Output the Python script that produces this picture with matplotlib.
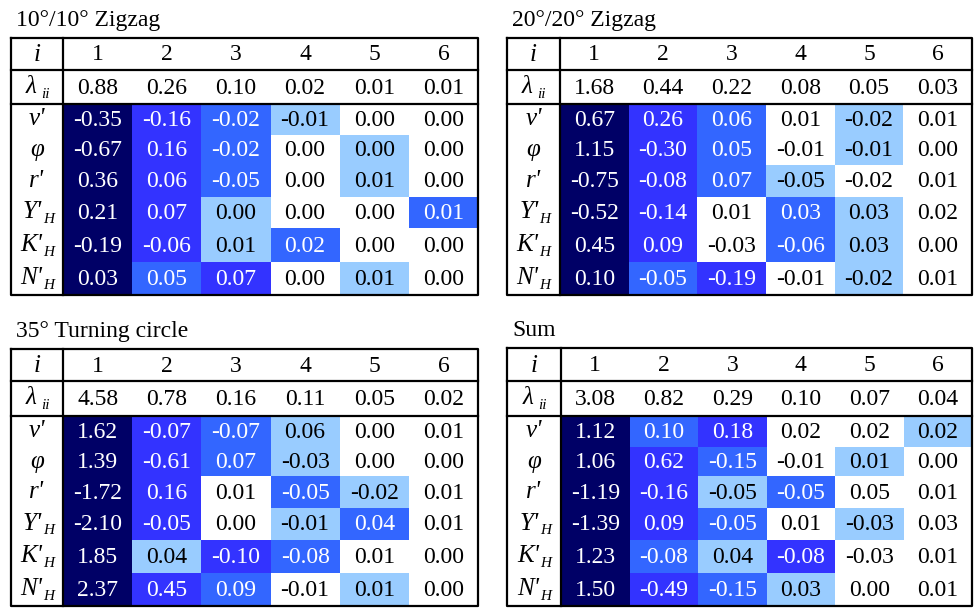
import matplotlib.pyplot as plt

plt.rcParams['font.family'] = ['Liberation Serif', 'DejaVu Serif']

# table contents
titles = ['10°/10° Zigzag', '20°/20° Zigzag', '35° Turning circle', 'Sum']
col_labels = ['1', '2', '3', '4', '5', '6']
row_labels = [("v'", ''), ('φ', ''), ("r'", ''), ("Y'", 'H'), ("K'", 'H'), ("N'", 'H')]

lam_zz10 = [0.88, 0.26, 0.10, 0.02, 0.01, 0.01]
val_zz10 = [[-0.35, -0.16, -0.02, -0.01, 0.00, 0.00],
            [-0.67, 0.16, -0.02, 0.00, 0.00, 0.00],
            [0.36, 0.06, -0.05, 0.00, 0.01, 0.00],
            [0.21, 0.07, 0.00, 0.00, 0.00, 0.01],
            [-0.19, -0.06, 0.01, 0.02, 0.00, 0.00],
            [0.03, 0.05, 0.07, 0.00, 0.01, 0.00]]
shade_zz10 = [[4, 3, 2, 1, 0, 0],
              [4, 3, 2, 0, 1, 0],
              [4, 3, 2, 0, 1, 0],
              [4, 3, 1, 0, 0, 2],
              [4, 3, 1, 2, 0, 0],
              [4, 2, 3, 0, 1, 0]]

lam_zz20 = [1.68, 0.44, 0.22, 0.08, 0.05, 0.03]
val_zz20 = [[0.67, 0.26, 0.06, 0.01, -0.02, 0.01],
            [1.15, -0.30, 0.05, -0.01, -0.01, 0.00],
            [-0.75, -0.08, 0.07, -0.05, -0.02, 0.01],
            [-0.52, -0.14, 0.01, 0.03, 0.03, 0.02],
            [0.45, 0.09, -0.03, -0.06, 0.03, 0.00],
            [0.10, -0.05, -0.19, -0.01, -0.02, 0.01]]
shade_zz20 = [[4, 3, 2, 0, 1, 0],
              [4, 3, 2, 0, 1, 0],
              [4, 3, 2, 1, 0, 0],
              [4, 3, 0, 2, 1, 0],
              [4, 3, 0, 2, 1, 0],
              [4, 2, 3, 0, 1, 0]]

lam_tc35 = [4.58, 0.78, 0.16, 0.11, 0.05, 0.02]
val_tc35 = [[1.62, -0.07, -0.07, 0.06, 0.00, 0.01],
            [1.39, -0.61, 0.07, -0.03, 0.00, 0.00],
            [-1.72, 0.16, 0.01, -0.05, -0.02, 0.01],
            [-2.10, -0.05, 0.00, -0.01, 0.04, 0.01],
            [1.85, 0.04, -0.10, -0.08, 0.01, 0.00],
            [2.37, 0.45, 0.09, -0.01, 0.01, 0.00]]
shade_tc35 = [[4, 3, 2, 1, 0, 0],
              [4, 3, 2, 1, 0, 0],
              [4, 3, 0, 2, 1, 0],
              [4, 3, 0, 1, 2, 0],
              [4, 1, 3, 2, 0, 0],
              [4, 3, 2, 0, 1, 0]]

lam_sum = [3.08, 0.82, 0.29, 0.10, 0.07, 0.04]
val_sum = [[1.12, 0.10, 0.18, 0.02, 0.02, 0.02],
           [1.06, 0.62, -0.15, -0.01, 0.01, 0.00],
           [-1.19, -0.16, -0.05, -0.05, 0.05, 0.01],
           [-1.39, 0.09, -0.05, 0.01, -0.03, 0.03],
           [1.23, -0.08, 0.04, -0.08, -0.03, 0.01],
           [1.50, -0.49, -0.15, 0.03, 0.00, 0.01]]
shade_sum = [[4, 2, 3, 0, 0, 1],
             [4, 3, 2, 0, 1, 0],
             [4, 3, 1, 2, 0, 0],
             [4, 3, 2, 0, 1, 0],
             [4, 2, 1, 3, 0, 0],
             [4, 3, 2, 1, 0, 0]]

lams = [lam_zz10, lam_zz20, lam_tc35, lam_sum]
vals = [val_zz10, val_zz20, val_tc35, val_sum]
shades = [shade_zz10, shade_zz20, shade_tc35, shade_sum]

colors = ['white', '#99ccff', '#3366ff', '#3333ff', '#000066']

fig = plt.figure(figsize=(9.75, 6.08), dpi=100)
ax = fig.add_axes([0, 0, 1, 1])
ax.set_xlim(0, 975)
ax.set_ylim(608, 0)
ax.axis('off')

# left, label-column edge, right, top, header line, lambda line, bottom (pixels)
boxes = [(11, 63, 478, 38, 70, 104, 295), (507, 560, 972, 38, 70, 104, 295),
         (11, 63, 478, 349, 381, 416, 606), (507, 561, 972, 348, 381, 416, 606)]
rel_h = [31, 30, 32, 32, 33.5, 33.5]
fs = 17
fl = 18
fsub = 11
lw = 1.6

for k in range(4):
    x0, xs, x1, y0, ya, yb, ybot = boxes[k]
    cw = (x1 - xs) / 6
    scale = (ybot - yb) / sum(rel_h)
    edges = [yb]
    for h in rel_h:
        edges.append(edges[-1] + h * scale)
    ax.text(x0 + 5, y0 - 12, titles[k], fontsize=17, va='baseline', ha='left')

    lx = (x0 + xs) / 2
    # coloured cells
    for r in range(6):
        top, bot = edges[r], edges[r + 1]
        cy = (top + bot) / 2
        for c in range(6):
            sh = shades[k][r][c]
            ax.add_patch(plt.Rectangle((xs + c * cw, top), cw, bot - top,
                                       facecolor=colors[sh], edgecolor='none'))
            tc = 'white' if sh >= 2 else 'black'
            ax.text(xs + (c + 0.5) * cw, cy + 1, f'{vals[k][r][c]:.2f}',
                    fontsize=fs, ha='center', va='center', color=tc)
        main, sub = row_labels[r]
        if sub:
            ax.text(lx + 5, cy, main, fontsize=fl, style='italic', ha='right', va='center')
            ax.text(lx + 6, cy + 7, sub, fontsize=fsub, style='italic', ha='left', va='center')
        else:
            ax.text(lx, cy, main, fontsize=fl, style='italic', ha='center', va='center')

    # header rows
    ax.text(lx, (y0 + ya) / 2 + 1, 'i', fontsize=fl, style='italic', ha='center', va='center')
    ax.text(lx - 1, (ya + yb) / 2, 'λ', fontsize=fl, style='italic', ha='right', va='center')
    ax.text(lx + 4, (ya + yb) / 2 + 7, 'ii', fontsize=fsub, style='italic', ha='left', va='center')
    for c in range(6):
        cx = xs + (c + 0.5) * cw
        ax.text(cx, (y0 + ya) / 2 + 1, col_labels[c], fontsize=fs, ha='center', va='center')
        ax.text(cx, (ya + yb) / 2 + 1, f'{lams[k][c]:.2f}', fontsize=fs, ha='center', va='center')

    # lines
    ax.plot([x0, x1, x1, x0, x0], [y0, y0, ybot, ybot, y0], color='black', lw=lw)
    ax.plot([x0, x1], [ya, ya], color='black', lw=lw)
    ax.plot([x0, x1], [yb, yb], color='black', lw=lw)
    ax.plot([xs, xs], [y0, ybot], color='black', lw=lw)

fig.savefig('out.png', dpi=100)
